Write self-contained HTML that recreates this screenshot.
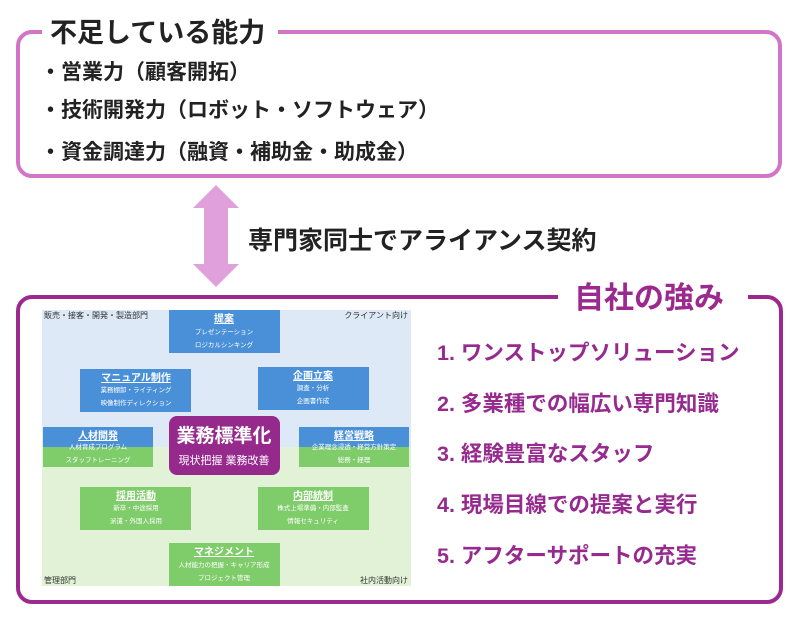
<!DOCTYPE html>
<html><head><meta charset="utf-8"><style>
html,body{margin:0;padding:0;background:#fff;}
svg{display:block;}
text{font-family:"Liberation Sans","Noto Sans CJK JP",sans-serif;}
</style></head><body>
<svg width="800" height="617" viewBox="0 0 800 617" xmlns="http://www.w3.org/2000/svg">
<rect x="18" y="32" width="762" height="144" rx="14" fill="#fff" stroke="#d274c8" stroke-width="4"/>
<rect x="42" y="14" width="236" height="36" fill="#fff"/>
<text x="50" y="42" font-size="27" font-weight="bold" fill="#222">不足している能力</text>
<g font-size="21" font-weight="bold" fill="#222">
<text x="40" y="79">・営業力（顧客開拓）</text>
<text x="40" y="117">・技術開発力（ロボット・ソフトウェア）</text>
<text x="40" y="159">・資金調達力（融資・補助金・助成金）</text>
</g>
<polygon points="216,185 239,208 228,208 228,264 239,264 216,287 193,264 204,264 204,208 193,208" fill="#e0a0dc"/>
<text x="248" y="249" font-size="25" font-weight="bold" fill="#222">専門家同士でアライアンス契約</text>
<rect x="18" y="297" width="763" height="305" rx="14" fill="#fff" stroke="#9c2a8e" stroke-width="4"/>
<rect x="558" y="278" width="190" height="38" fill="#fff"/>
<text x="574" y="308" font-size="30" font-weight="bold" fill="#9c2a8e">自社の強み</text>
<g font-size="21.5" font-weight="bold" fill="#962a8e">
<text x="437" y="360">1. ワンストップソリューション</text>
<text x="437" y="411">2. 多業種での幅広い専門知識</text>
<text x="437" y="461">3. 経験豊富なスタッフ</text>
<text x="437" y="512">4. 現場目線での提案と実行</text>
<text x="437" y="563">5. アフターサポートの充実</text>
</g>
<rect x="42" y="310" width="369" height="137" fill="#dde9f7"/>
<rect x="42" y="447" width="369" height="139" fill="#e1f2d6"/>
<g font-size="8" fill="#333">
<text x="44" y="318">販売・接客・開発・製造部門</text>
<text x="408" y="318" text-anchor="end">クライアント向け</text>
<text x="44" y="583">管理部門</text>
<text x="408" y="583" text-anchor="end">社内活動向け</text>
</g>
<g fill="#4a90d9">
<rect x="169" y="310" width="111" height="43"/>
<rect x="80" y="369" width="111" height="43"/>
<rect x="258" y="367" width="111" height="43"/>
<rect x="43" y="427" width="110" height="20"/>
<rect x="299" y="427" width="110" height="20"/>
</g>
<g fill="#7fcc6a">
<rect x="43" y="447" width="110" height="20"/>
<rect x="299" y="447" width="110" height="20"/>
<rect x="80" y="487" width="111" height="43"/>
<rect x="258" y="487" width="111" height="43"/>
<rect x="169" y="543" width="111" height="43"/>
</g>
<rect x="169" y="416" width="111" height="59" rx="8" fill="#952a8c"/>
<g fill="#fff" text-anchor="middle">
<text x="224" y="442" font-size="19" font-weight="bold">業務標準化</text>
<text x="224" y="464" font-size="11">現状把握  業務改善</text>
<g font-size="10" font-weight="bold" text-decoration="underline">
<text x="224" y="322">提案</text>
<text x="136" y="381">マニュアル制作</text>
<text x="313" y="379">企画立案</text>
<text x="98" y="439">人材開発</text>
<text x="354" y="439">経営戦略</text>
<text x="136" y="499">採用活動</text>
<text x="313" y="499">内部統制</text>
<text x="224" y="555">マネジメント</text>
</g>
<g font-size="6.5">
<text x="224" y="334">プレゼンテーション</text>
<text x="224" y="347">ロジカルシンキング</text>
<text x="136" y="392">業務棚卸・ライティング</text>
<text x="136" y="405">映像制作ディレクション</text>
<text x="313" y="390">調査・分析</text>
<text x="313" y="403">企画書作成</text>
<text x="98" y="449">人材育成プログラム</text>
<text x="98" y="462">スタッフトレーニング</text>
<text x="354" y="449">企業理念浸透・経営方針策定</text>
<text x="354" y="462">総務・経理</text>
<text x="136" y="510">新卒・中途採用</text>
<text x="136" y="523">派遣・外国人採用</text>
<text x="313" y="510">株式上場準備・内部監査</text>
<text x="313" y="523">情報セキュリティ</text>
<text x="224" y="567">人材能力の把握・キャリア形成</text>
<text x="224" y="580">プロジェクト管理</text>
</g>
</g>
</svg>
</body></html>
